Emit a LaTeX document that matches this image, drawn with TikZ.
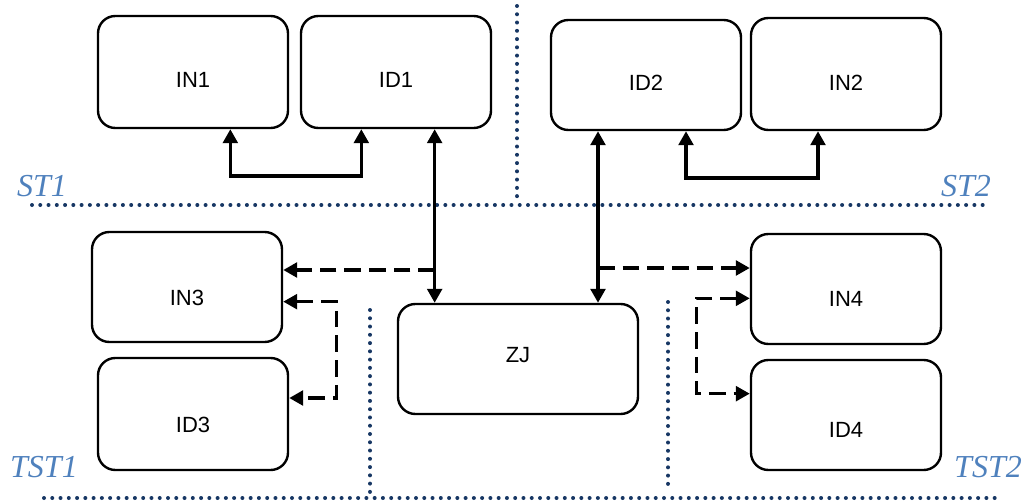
\documentclass[tikz,border=0pt]{standalone}
\usepackage{fontspec}
\setmainfont{Liberation Sans}
\newfontfamily\zonefont{Liberation Serif}
\usetikzlibrary{arrows.meta,positioning}
\definecolor{zoneblue}{RGB}{79,129,189}
\definecolor{sepblue}{RGB}{23,55,100}

\begin{document}
\begin{tikzpicture}[
x=0.75pt, y=-0.75pt,
font=\fontsize{16.5}{19}\selectfont,
unit/.style={draw=black, line width=1.8pt, rounded corners=13pt,
    minimum width=142.5pt, minimum height=84pt, inner sep=0pt, text height=24pt},
link/.style={line width=2.6pt, {Triangle[length=10.5pt,width=11pt]}-{Triangle[length=10.5pt,width=11pt]}},
onelink/.style={line width=2.6pt, -{Triangle[length=10.5pt,width=11pt]}},
weak/.style={dash pattern=on 12.5pt off 6pt},
sep/.style={draw=sepblue, line width=3pt, line cap=round, dash pattern=on 0pt off 6.2pt},
zone/.style={text=zoneblue, font=\zonefont\itshape\fontsize{24}{26}\selectfont},
]
\useasboundingbox (0,0) rectangle (1032,503);

% separators
\draw[sep] (32,205) -- (985,205);
\draw[sep] (517,6) -- (517,198);
\draw[sep] (44,498) -- (998,498);
\draw[sep] (370,310) -- (370,492);
\draw[sep] (668,302) -- (668,492);

\node[zone] (st1) at (42,186) {ST1};
\node[zone] (st2) at (966,186) {ST2};
\node[zone] (tst1) at (44,467) {TST1};
\node[zone] (tst2) at (988,467) {TST2};

% units
\node[unit] (in1) at (193,72) {IN1};
\node[unit] (id1) at (396,72) {ID1};
\node[unit, minimum height=82.5pt] (id2) at (646,75) {ID2};
\node[unit] (in2) at (846,74) {IN2};
\node[unit, minimum height=82.5pt, text height=28pt] (in3) at (187,287) {IN3};
\node[unit, text height=28pt] (id3) at (193,414) {ID3};
\node[unit, minimum width=180pt, minimum height=82.5pt, text height=6pt] (zj) at (518,359) {ZJ};
\node[unit, minimum height=82.5pt, text height=26pt] (in4) at (846,289) {IN4};
\node[unit, minimum height=82.5pt, text height=33pt] (id4) at (846,415) {ID4};

% links
\draw[link] ([xshift=28pt]in1.south) -- ++(0,-35pt) -| ([xshift=-26pt]id1.south);
\draw[link] ([xshift=30pt]id2.south) -- ++(0,-35pt) -| ([xshift=-21pt]in2.south);
\draw[link] ([xshift=29pt]id1.south) -- ([xshift=29pt]id1.south |- zj.north);
\draw[link] ([xshift=-36pt]id2.south) -- ([xshift=-36pt]id2.south |- zj.north);

\coordinate (tap1) at (435,270);
\coordinate (tap2) at (598,268);
\draw[onelink, weak] (tap1) -- (tap1 -| in3.east);
\draw[onelink, weak] (tap2) -- (tap2 -| in4.west);
\draw[link, weak] ([yshift=-11pt]in3.east) -- ++(40pt,0) |- ([yshift=12pt]id3.east);
\draw[link, weak] ([yshift=-7pt]in4.west) -- ++(-40pt,0) |- ([yshift=16pt]id4.west);

\end{tikzpicture}
\end{document}
